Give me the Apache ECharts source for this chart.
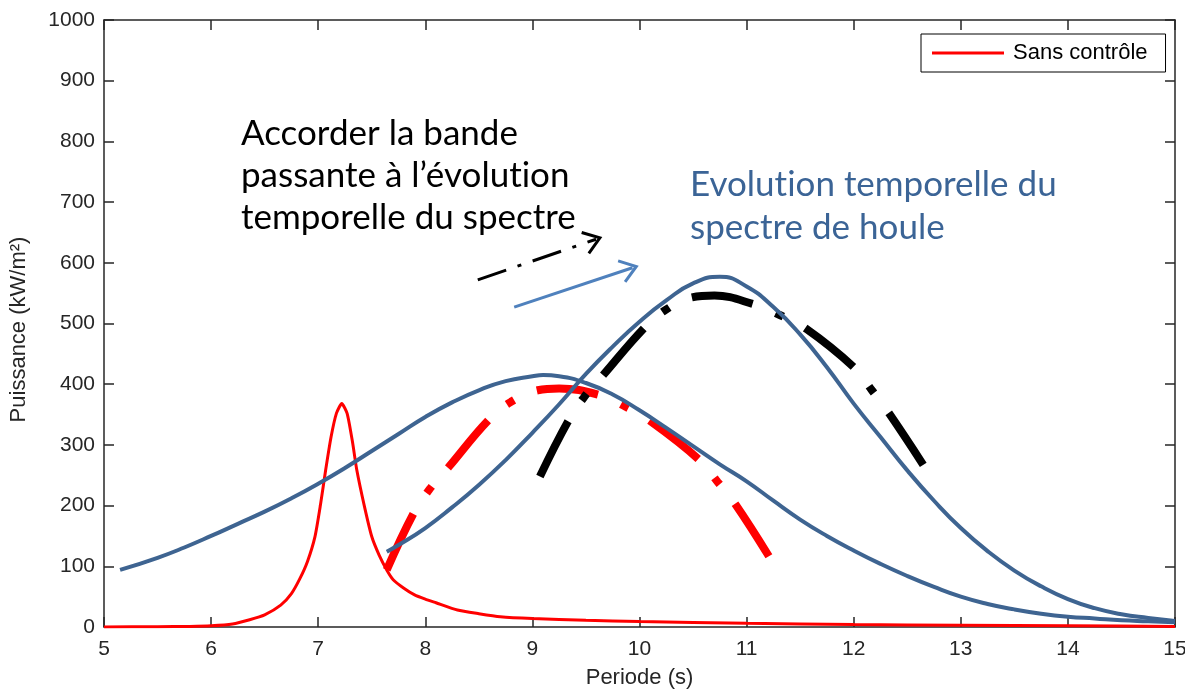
<!DOCTYPE html>
<html><head><meta charset="utf-8">
<script src="https://cdn.jsdelivr.net/npm/echarts/dist/echarts.min.js"></script>
<style>html,body{margin:0;padding:0;background:#fff}#c{width:1185px;height:691px}</style>
</head><body><div id="c"></div>
<script>
// ---- data ----
const sansControleT = [5, 5.5, 5.8, 6, 6.2, 6.36, 6.5, 6.65, 6.75, 6.83, 6.9, 6.97, 7.02, 7.07, 7.12, 7.17, 7.22, 7.27, 7.32, 7.36, 7.43, 7.5, 7.57, 7.64, 7.7, 7.8, 7.9, 8.0, 8.1, 8.3, 8.5, 8.7, 9, 9.5, 10, 11, 12, 13, 14, 15];
const sansControleP = [0, 0.5, 1, 2, 5, 12, 20, 36, 55, 80, 108, 149, 200, 259, 313, 352, 368, 352, 305, 259, 200, 149, 118, 94, 78, 64, 53, 46, 40, 28, 22, 17, 14, 11, 9, 6, 4, 3, 2, 1];

const spectreAT = [5.15, 5.5, 5.75, 6.0, 6.25, 6.5, 6.75, 7.0, 7.25, 7.5, 7.75, 8.0, 8.25, 8.5, 8.75, 9.0, 9.1, 9.25, 9.5, 9.75, 10.0, 10.25, 10.5, 10.75, 11.0, 11.25, 11.5, 11.75, 12.0, 12.25, 12.5, 12.75, 13.0, 13.25, 13.5, 13.75, 14.0, 14.25, 14.5, 14.75, 15];
const spectreAP = [94, 114, 131, 150, 170, 190, 212, 236, 262, 290, 318, 346, 370, 390, 405, 413, 415, 413, 402, 383, 357, 328, 298, 268, 240, 208, 177, 150, 126, 104, 84, 66, 50, 38, 29, 22, 17, 14, 11, 9.5, 8];

const spectreBT = [7.64, 7.75, 8.0, 8.25, 8.5, 8.75, 9.0, 9.25, 9.5, 9.75, 10.0, 10.25, 10.5, 10.75, 11.0, 11.25, 11.5, 11.75, 12.0, 12.25, 12.5, 12.75, 13.0, 13.25, 13.5, 13.75, 14.0, 14.25, 14.5, 14.75, 15];
const spectreBP = [124, 135, 163, 197, 234, 275, 320, 367, 417, 462, 503, 538, 566, 577, 561, 527, 482, 428, 368, 313, 258, 208, 163, 125, 93, 67, 46, 31, 21, 15, 10];

const bandeRougeT = [7.64, 7.89, 8.04, 8.22, 8.59, 8.8, 9.05, 9.25, 9.63, 9.87, 10.11, 10.56, 10.73, 10.9, 11.21];
const bandeRougeP = [94, 187, 227, 264, 341, 371, 390, 393, 382, 363, 338, 275, 239, 201, 116];

const bandeNoireT = [9.07, 9.33, 9.48, 9.66, 10.04, 10.24, 10.49, 10.7, 11.06, 11.31, 11.55, 12.0, 12.17, 12.33, 12.65];
const bandeNoireP = [248, 338, 378, 415, 492, 522, 543, 546, 532, 514, 492, 428, 390, 352, 267];

const flecheNoire = [[8.49, 572], [9.63, 641]];
const flecheBleue = [[8.83, 527], [9.97, 594]];

// \u200C keeps the canvas from fusing "ti" into a ligature
const texteNoir = 'Accorder la bande\npassante à l\u2019évolut\u200Cion\ntemporelle du spectre';
const texteBleu = 'Evolut\u200Cion temporelle du\nspectre de houle';

const zip = (a, b) => a.map((v, i) => [v, b[i]]);

const chart = echarts.init(document.getElementById('c'), null, {renderer: 'canvas'});
const axisCol = '#262626';
const labelFont = {fontFamily: 'Liberation Sans', fontSize: 21, color: '#262626'};
const option = {
  animation: false,
  backgroundColor: '#fff',
  grid: {left: 104, right: 10, top: 20, bottom: 64, containLabel: false, outerBoundsMode: 'none'},
  legend: {
    data: ['Sans contrôle'],
    left: 921, top: 34,
    selectedMode: false,
    itemWidth: 72, itemHeight: 3, icon: 'rect',
    padding: [8, 18, 8, 11],
    borderColor: '#000', borderWidth: 1,
    backgroundColor: '#fff',
    textStyle: {fontFamily: 'Liberation Sans', fontSize: 22, color: '#000', padding: [0, 0, 0, 4]}
  },
  xAxis: [{
    type: 'value', min: 5, max: 15, interval: 1,
    name: 'Periode (s)', nameLocation: 'middle', nameGap: 40,
    nameTextStyle: {fontFamily: 'Liberation Sans', fontSize: 22, color: '#262626'},
    axisLine: {lineStyle: {color: axisCol, width: 1.5}},
    axisTick: {inside: true, length: 10, lineStyle: {color: axisCol, width: 1.5}},
    axisLabel: Object.assign({margin: 12, formatter: v => String(v)}, labelFont),
    splitLine: {show: false}
  }, {
    type: 'value', position: 'top', min: 5, max: 15, interval: 1,
    axisLine: {onZero: false, lineStyle: {color: axisCol, width: 1.5}},
    axisTick: {inside: true, length: 10, lineStyle: {color: axisCol, width: 1.5}},
    axisLabel: {show: false}, splitLine: {show: false}
  }],
  yAxis: [{
    type: 'value', min: 0, max: 1000, interval: 100,
    name: 'Puissance (kW/m²)', nameLocation: 'middle', nameGap: 74,
    nameTextStyle: {fontFamily: 'Liberation Sans', fontSize: 22, color: '#262626', padding: [0, 12, 0, 0]},
    axisLine: {show: true, lineStyle: {color: axisCol, width: 1.5}},
    axisTick: {show: true, inside: true, length: 10, lineStyle: {color: axisCol, width: 1.5}},
    axisLabel: Object.assign({margin: 9, formatter: v => String(v)}, labelFont),
    splitLine: {show: false}
  }, {
    type: 'value', position: 'right', min: 0, max: 1000, interval: 100,
    axisLine: {show: true, onZero: false, lineStyle: {color: axisCol, width: 1.5}},
    axisTick: {show: true, inside: true, length: 10, lineStyle: {color: axisCol, width: 1.5}},
    axisLabel: {show: false}, splitLine: {show: false}
  }],
  series: [{
    name: 'Sans contrôle', type: 'line', data: zip(sansControleT, sansControleP),
    showSymbol: false, smooth: 0.2, z: 3,
    itemStyle: {color: '#ff0000'},
    lineStyle: {color: '#ff0000', width: 3}
  }, {
    name: 'bande rouge', type: 'line', data: zip(bandeRougeT, bandeRougeP),
    showSymbol: false, smooth: 0.4, z: 4,
    lineStyle: {color: '#ff0000', width: 8, type: [62, 25, 8, 25], cap: 'butt'}
  }, {
    name: 'bande noire', type: 'line', data: zip(bandeNoireT, bandeNoireP),
    showSymbol: false, smooth: 0.4, z: 4,
    lineStyle: {color: '#000000', width: 8, type: [62, 25, 8, 25], cap: 'butt'}
  }, {
    name: 'spectre A', type: 'line', data: zip(spectreAT, spectreAP),
    showSymbol: false, smooth: 0.5, z: 5,
    lineStyle: {color: '#3e6491', width: 4}
  }, {
    name: 'spectre B', type: 'line', data: zip(spectreBT, spectreBP),
    showSymbol: false, smooth: 0.5, z: 5,
    lineStyle: {color: '#3e6491', width: 4}
  }]
};
chart.setOption(option);

function arrow(from, to, color, dash) {
  const a = chart.convertToPixel({gridIndex: 0}, from);
  const b = chart.convertToPixel({gridIndex: 0}, to);
  const ang = Math.atan2(b[1] - a[1], b[0] - a[0]);
  const L = 19, spread = 0.62;
  const p1 = [b[0] - L * Math.cos(ang - spread), b[1] - L * Math.sin(ang - spread)];
  const p2 = [b[0] - L * Math.cos(ang + spread), b[1] - L * Math.sin(ang + spread)];
  return [{
    type: 'line', z: 10,
    shape: {x1: a[0], y1: a[1], x2: b[0] - 4 * Math.cos(ang), y2: b[1] - 4 * Math.sin(ang)},
    style: {stroke: color, lineWidth: 3, lineDash: dash || null, lineCap: 'butt'}
  }, {
    type: 'polyline', z: 10,
    shape: {points: [p1, b, p2]},
    style: {stroke: color, lineWidth: 3, fill: null, lineJoin: 'miter'}
  }];
}

chart.setOption({
  graphic: [].concat(
    arrow(flecheNoire[0], flecheNoire[1], '#000', [30, 12, 4, 12]),
    arrow(flecheBleue[0], flecheBleue[1], '#4f81bd', null),
    [{
      type: 'text', z: 10, left: 241, top: 113,
      style: {text: texteNoir, font: '35px Lato', fill: '#000', lineHeight: 42}
    }, {
      type: 'text', z: 10, left: 690, top: 163,
      style: {text: texteBleu, font: '35px Lato', fill: '#3b6496', lineHeight: 43}
    }]
  )
});
</script>
</body></html>
